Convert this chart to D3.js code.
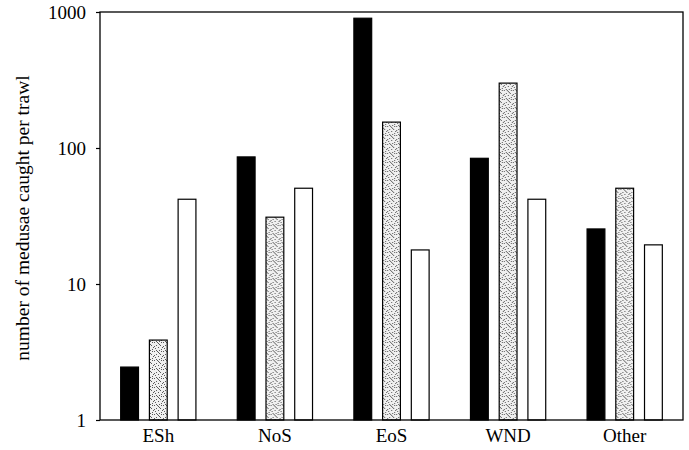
<!DOCTYPE html>
<html>
<head>
<meta charset="utf-8">
<script src="https://cdn.jsdelivr.net/npm/d3@7"></script>
<style>
  html, body { margin: 0; padding: 0; background: #fff; overflow: hidden; }
  svg { display: block; }
  text { font-family: "Liberation Serif", "DejaVu Serif", serif; }
</style>
</head>
<body>
<script>
const categories = ["ESh", "NoS", "EoS", "WND", "Other"];
const series = ["black", "stipple", "white"];
const blackValues = [2.45, 86, 900, 84, 25.4];
const stippleValues = [3.87, 31, 155, 300, 50.6];
const whiteValues = [42, 50.6, 17.8, 42, 19.4];
const yTicks = [1, 10, 100, 1000];

const valuesBySeries = {
  black: blackValues,
  stipple: stippleValues,
  white: whiteValues
};

let width = 689;
let height = 450;
let margin = { top: 12, right: 6, bottom: 30, left: 100 };
let innerWidth = width - margin.left - margin.right;
let innerHeight = height - margin.top - margin.bottom;

let svg = d3
  .select("body")
  .append("svg")
  .attr("width", width)
  .attr("height", height);

// stippled fill for the middle series
let pat = svg
  .append("defs")
  .append("pattern")
  .attr("id", "stipple")
  .attr("patternUnits", "userSpaceOnUse")
  .attr("width", 9)
  .attr("height", 9);
pat.append("rect").attr("width", 9).attr("height", 9).attr("fill", "#f0f0f0");
[[0, 0], [4, 1], [7, 0], [2, 3], [6, 3], [8, 5], [1, 6], [4, 5], [5, 8], [2, 8], [7, 7], [3, 0], [0, 4], [5, 2]].forEach(([px, py]) => {
  pat.append("rect").attr("x", px).attr("y", py).attr("width", 1).attr("height", 1).attr("fill", "#5a5a5a");
});

let x0 = d3
  .scaleBand()
  .domain(categories)
  .range([margin.left, margin.left + innerWidth])
  .padding(0);

let x1 = d3
  .scaleBand()
  .domain(series)
  .range([0, x0.bandwidth()])
  .paddingInner(0.38)
  .paddingOuter(0.72);

let y = d3
  .scaleLog()
  .domain([1, 1000])
  .range([margin.top + innerHeight, margin.top]);

const fills = { black: "#000", stipple: "url(#stipple)", white: "#fff" };

// bars
let groups = svg
  .append("g")
  .selectAll("g")
  .data(categories)
  .join("g")
  .attr("transform", (d) => `translate(${x0(d)},0)`);

groups
  .selectAll("rect")
  .data((d, i) => series.map((s) => ({ s: s, v: valuesBySeries[s][i] })))
  .join("rect")
  .attr("x", (d) => x1(d.s))
  .attr("width", x1.bandwidth())
  .attr("y", (d) => y(d.v))
  .attr("height", (d) => y(1) - y(d.v))
  .attr("fill", (d) => fills[d.s])
  .attr("stroke", "#000")
  .attr("stroke-width", 1.2);

// frame
svg
  .append("rect")
  .attr("x", margin.left)
  .attr("y", margin.top)
  .attr("width", innerWidth)
  .attr("height", innerHeight)
  .attr("fill", "none")
  .attr("stroke", "#000")
  .attr("stroke-width", 1.3);

// y axis
let yAxis = d3
  .axisLeft(y)
  .tickValues(yTicks)
  .tickFormat(d3.format("d"))
  .tickSize(4)
  .tickPadding(10);
svg
  .append("g")
  .attr("transform", `translate(${margin.left},0)`)
  .call(yAxis)
  .call((g) => g.select(".domain").remove())
  .call((g) => g.selectAll("line").attr("stroke", "#000").attr("stroke-width", 1.2))
  .call((g) =>
    g.selectAll("text")
      .attr("font-size", 19)
      .attr("fill", "#000")
      .style("font-family", "'Liberation Serif', serif")
  );

// x axis labels
let xAxis = d3.axisBottom(x0).tickSize(0).tickPadding(9);
svg
  .append("g")
  .attr("transform", `translate(0,${margin.top + innerHeight})`)
  .call(xAxis)
  .call((g) => g.select(".domain").remove())
  .call((g) =>
    g.selectAll("text")
      .attr("font-size", 19)
      .attr("fill", "#000")
      .style("font-family", "'Liberation Serif', serif")
  );

// y title
svg
  .append("text")
  .attr("transform", `translate(29,${margin.top + innerHeight / 2 + 2}) rotate(-90)`)
  .attr("text-anchor", "middle")
  .attr("font-size", 19.5)
  .attr("fill", "#000")
  .text("number of medusae caught per trawl");
</script>
</body>
</html>
